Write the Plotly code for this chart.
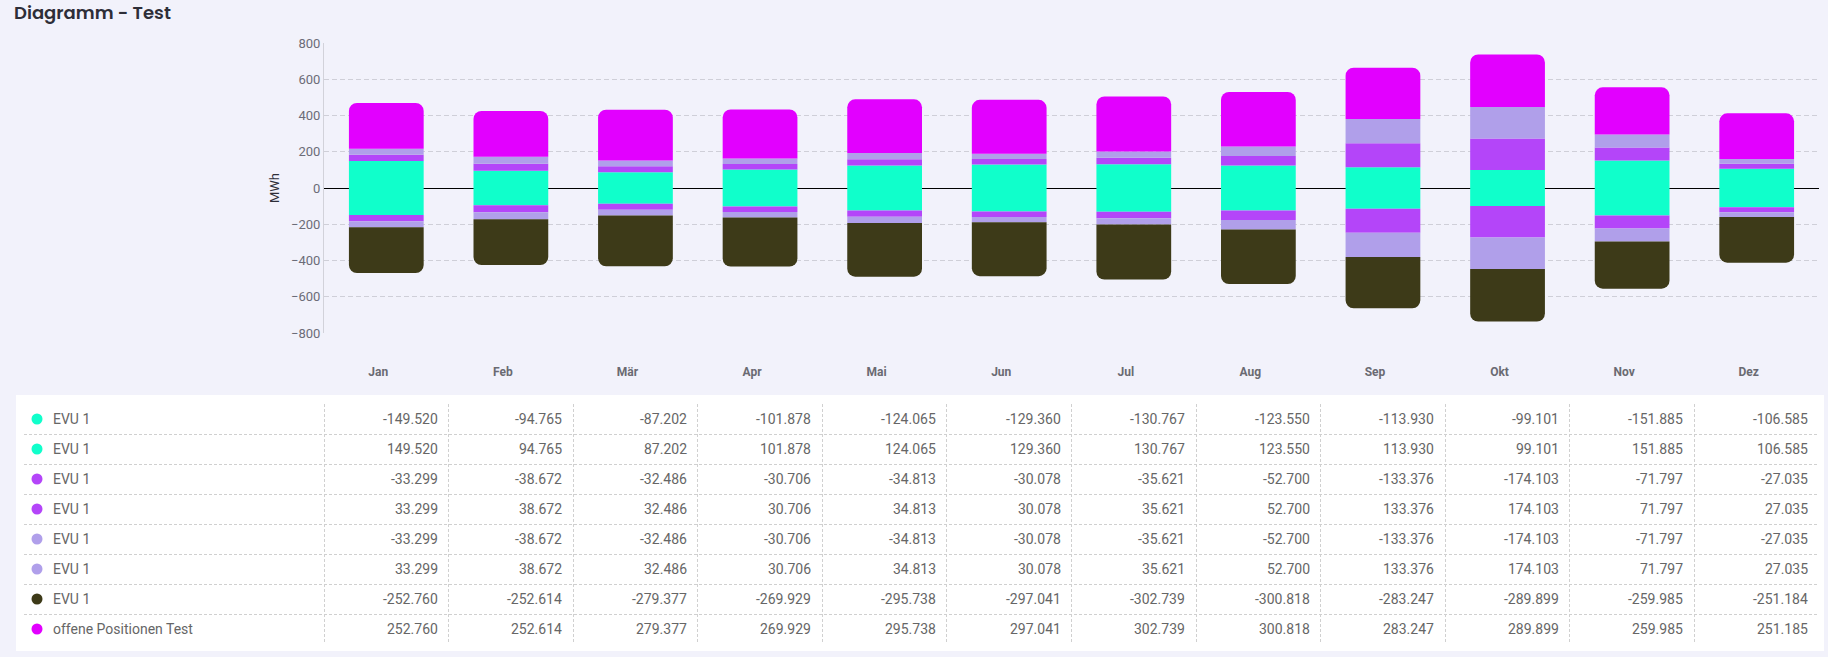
import plotly.graph_objects as go

# chart values
months = ["Jan", "Feb", "Mär", "Apr", "Mai", "Jun", "Jul", "Aug", "Sep", "Okt", "Nov", "Dez"]

evu_cyan_neg = [-149.520, -94.765, -87.202, -101.878, -124.065, -129.360,
                -130.767, -123.550, -113.930, -99.101, -151.885, -106.585]
evu_cyan_pos = [149.520, 94.765, 87.202, 101.878, 124.065, 129.360,
                130.767, 123.550, 113.930, 99.101, 151.885, 106.585]
evu_purple_neg = [-33.299, -38.672, -32.486, -30.706, -34.813, -30.078,
                  -35.621, -52.700, -133.376, -174.103, -71.797, -27.035]
evu_purple_pos = [33.299, 38.672, 32.486, 30.706, 34.813, 30.078,
                  35.621, 52.700, 133.376, 174.103, 71.797, 27.035]
evu_lavender_neg = [-33.299, -38.672, -32.486, -30.706, -34.813, -30.078,
                    -35.621, -52.700, -133.376, -174.103, -71.797, -27.035]
evu_lavender_pos = [33.299, 38.672, 32.486, 30.706, 34.813, 30.078,
                    35.621, 52.700, 133.376, 174.103, 71.797, 27.035]
evu_dark = [-252.760, -252.614, -279.377, -269.929, -295.738, -297.041,
            -302.739, -300.818, -283.247, -289.899, -259.985, -251.184]
offene_positionen = [252.760, 252.614, 279.377, 269.929, 295.738, 297.041,
                     302.739, 300.818, 283.247, 289.899, 259.985, 251.185]

series_names = ["EVU 1", "EVU 1", "EVU 1", "EVU 1", "EVU 1", "EVU 1", "EVU 1",
                "offene Positionen Test"]
series_colors = ["#10FFCB", "#10FFCB", "#B445F9", "#B445F9", "#B09FEA", "#B09FEA",
                 "#3D3A18", "#E200FF"]
series_values = [evu_cyan_neg, evu_cyan_pos, evu_purple_neg, evu_purple_pos,
                 evu_lavender_neg, evu_lavender_pos, evu_dark, offene_positionen]

y_ticks = [-800, -600, -400, -200, 0, 200, 400, 600, 800]

# page geometry in pixels
W, H = 1828, 657
BG = "#F2F2FB"
plot_left, plot_right = 324, 1819
plot_top, plot_bottom = 43, 333
table_left = 24
table_top, table_bottom = 404, 644
col_w = (plot_right - plot_left) / len(months)


def px_x(p):
    return p / W


def px_y(p):
    return 1 - p / H


def table_x(p):
    """pixel x -> data x on the table axis"""
    return -0.5 - (plot_left - p) / col_w


fig = go.Figure()

for name, color, values in zip(series_names, series_colors, series_values):
    fig.add_trace(
        go.Bar(
            x=months,
            y=values,
            name=name,
            marker=dict(color=color, line=dict(width=0)),
            showlegend=False,
            hoverinfo="skip",
        )
    )

# table: colored dots for each row
row_idx = list(range(len(series_names)))
fig.add_trace(
    go.Scatter(
        x=[table_x(37)] * len(row_idx),
        y=row_idx,
        mode="markers",
        marker=dict(size=11, color=series_colors),
        xaxis="x2",
        yaxis="y2",
        showlegend=False,
        hoverinfo="skip",
    )
)

table_font = dict(family="Roboto", size=14, color="#666666")
annotations = []
for r, (name, values) in enumerate(zip(series_names, series_values)):
    annotations.append(
        dict(
            x=table_x(51), y=r, xref="x2", yref="y2", text=name,
            showarrow=False, xanchor="left", yanchor="middle", font=table_font,
        )
    )
    for i, v in enumerate(values):
        annotations.append(
            dict(
                x=i + 0.5, y=r, xref="x2", yref="y2", text=f"{v:.3f}",
                showarrow=False, xanchor="right", yanchor="middle", xshift=-9,
                font=table_font,
            )
        )

fig.update_layout(
    width=W,
    height=H,
    autosize=False,
    margin=dict(l=0, r=0, t=0, b=0),
    paper_bgcolor=BG,
    plot_bgcolor="rgba(0,0,0,0)",
    barmode="relative",
    bargap=0.4,
    barcornerradius=8,
    font=dict(family="Roboto", color="#6c6c78"),
    title=dict(
        text="Diagramm - Test",
        x=px_x(14), xanchor="left", xref="paper",
        y=px_y(13), yanchor="middle",
        font=dict(family="Poppins, Inter", size=18, weight=600, color="#2e2e38"),
    ),
    xaxis=dict(
        domain=[px_x(plot_left), px_x(plot_right)],
        type="category",
        showgrid=False,
        showline=False,
        ticks="",
        ticklabelstandoff=30,
        ticklabelshift=-8,
        tickfont=dict(family="Roboto", size=12, weight="bold", color="#6a6a72"),
        automargin=False,
        fixedrange=True,
    ),
    yaxis=dict(
        domain=[px_y(plot_bottom), px_y(plot_top)],
        range=[-800, 800],
        tickvals=y_ticks,
        showgrid=True,
        gridcolor="#CFCFD8",
        griddash="5px,3px",
        gridwidth=1,
        zeroline=True,
        zerolinecolor="#000000",
        zerolinewidth=1,
        showline=True,
        linecolor="#D2D2DA",
        linewidth=1,
        ticks="",
        tickfont=dict(family="Roboto", size=13, color="#6c6c78"),
        title=dict(text="MWh", standoff=8,
                   font=dict(family="Roboto", size=13, color="#2e2e38")),
        automargin=False,
        fixedrange=True,
    ),
    xaxis2=dict(
        domain=[px_x(table_left), px_x(plot_right)],
        range=[table_x(table_left), len(months) - 0.5],
        tickvals=[i - 0.5 for i in range(len(months))],
        showticklabels=False,
        showgrid=True,
        gridcolor="#D0D0D0",
        griddash="3px,2px",
        zeroline=False,
        showline=False,
        ticks="",
        anchor="y2",
        automargin=False,
        fixedrange=True,
    ),
    yaxis2=dict(
        domain=[px_y(table_bottom), px_y(table_top)],
        range=[len(series_names) - 0.5, -0.5],
        tickvals=[r + 0.5 for r in range(len(series_names) - 1)],
        showticklabels=False,
        showgrid=True,
        gridcolor="#D0D0D0",
        griddash="3px,2px",
        zeroline=False,
        showline=False,
        ticks="",
        anchor="x2",
        automargin=False,
        fixedrange=True,
    ),
    annotations=annotations,
    shapes=[
        # white panel behind the table
        dict(
            type="rect", xref="paper", yref="paper", layer="below",
            x0=px_x(16), x1=px_x(1824), y0=px_y(651), y1=px_y(395),
            fillcolor="#FFFFFF", line=dict(width=0),
        )
    ],
)

# draw the zero line on top of the bars where supported
try:
    fig.update_yaxes(zerolinelayer="above traces", selector=dict(anchor="x"))
except ValueError:
    pass

fig.write_html(
    "out.html",
    config={"displayModeBar": False},
    post_script="document.body.style.margin='0';"
                "document.body.style.background='" + BG + "';",
)
